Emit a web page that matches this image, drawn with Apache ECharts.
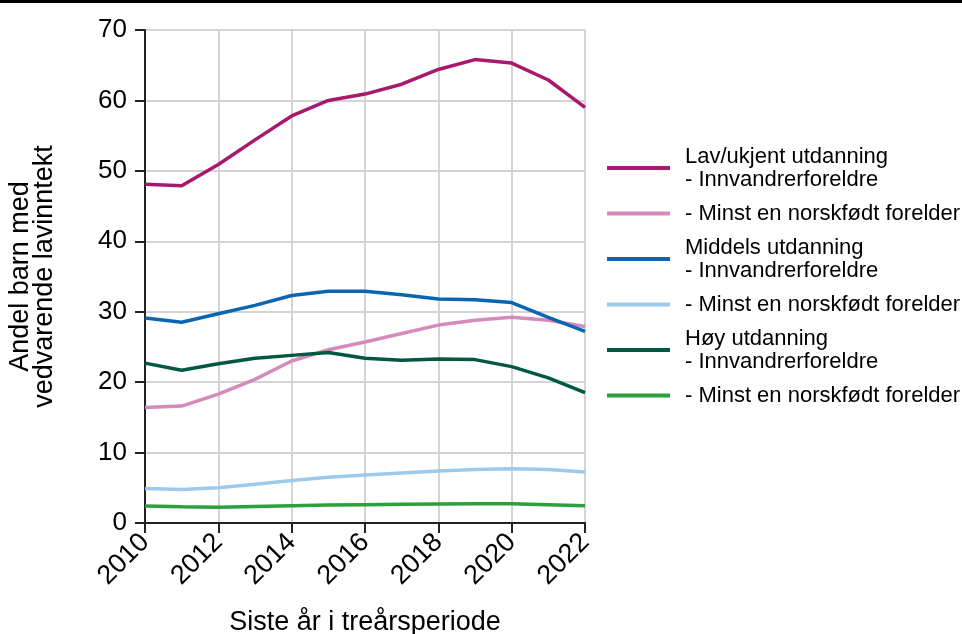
<!DOCTYPE html>
<html>
<head>
    <meta charset="utf-8">
    <title>Vedvarende lavinntekt</title>
    <script src="https://cdn.jsdelivr.net/npm/echarts@6/dist/echarts.min.js"></script>
    <style>
        html, body { margin: 0; padding: 0; background: #fff; }
        #charts { width: 962px; height: 634px; }
    </style>
</head>
<body>
<div id="charts"></div>
<script>
    // år (siste år i treårsperiode)
    var years = [2010, 2011, 2012, 2013, 2014, 2015, 2016, 2017, 2018, 2019, 2020, 2021, 2022];

    var seriesNames = [
        'Lav/ukjent utdanning\n- Innvandrerforeldre',
        '- Minst en norskfødt forelder',
        'Middels utdanning\n- Innvandrerforeldre',
        '- Minst en norskfødt forelder ',
        'Høy utdanning\n- Innvandrerforeldre',
        '- Minst en norskfødt forelder  '
    ];

    var lavInnv   = [48.1, 47.9, 50.9, 54.4, 57.8, 60.0, 60.9, 62.3, 64.4, 65.8, 65.3, 62.9, 59.0];
    var lavNorsk  = [16.4, 16.6, 18.3, 20.4, 23.0, 24.6, 25.7, 26.9, 28.1, 28.8, 29.2, 28.8, 27.9];
    var midInnv   = [29.1, 28.5, 29.7, 30.9, 32.3, 32.9, 32.9, 32.4, 31.8, 31.7, 31.3, 29.2, 27.2];
    var midNorsk  = [4.9, 4.75, 5.0, 5.5, 6.05, 6.5, 6.8, 7.1, 7.4, 7.6, 7.7, 7.6, 7.25];
    var hoyInnv   = [22.7, 21.7, 22.6, 23.4, 23.8, 24.2, 23.4, 23.1, 23.3, 23.2, 22.2, 20.6, 18.5];
    var hoyNorsk  = [2.4, 2.3, 2.25, 2.35, 2.45, 2.55, 2.6, 2.65, 2.7, 2.75, 2.75, 2.6, 2.45];

    var allValues = [lavInnv, lavNorsk, midInnv, midNorsk, hoyInnv, hoyNorsk];
    var colors = ['#a8186f', '#d58bba', '#0a66b2', '#9dcaeb', '#005843', '#2ca03c'];

    var myChart = echarts.init(document.getElementById('charts'));

    function pairs(vals) {
        var out = [];
        for (var i = 0; i < years.length; i++) {
            out.push([years[i], vals[i]]);
        }
        return out;
    }

    var series = [];
    for (var s = 0; s < seriesNames.length; s++) {
        series.push({
            name: seriesNames[s],
            type: 'line',
            symbol: 'none',
            lineStyle: {width: 3.5, color: colors[s]},
            itemStyle: {color: colors[s]},
            data: pairs(allValues[s])
        });
    }

    var font = 'Liberation Sans, Arial, sans-serif';

    var option = {
        animation: false,
        textStyle: {fontFamily: font},
        graphic: [{
            type: 'rect',
            left: 0, top: 0,
            shape: {width: 962, height: 3},
            style: {fill: '#000'}
        }],
        legend: {
            orient: 'vertical',
            left: 607,
            top: 145,
            padding: 0,
            icon: 'rect',
            itemWidth: 63,
            itemHeight: 4,
            itemGap: 11,
            data: seriesNames,
            textStyle: {
                fontFamily: font,
                fontSize: 22,
                lineHeight: 23,
                color: '#000',
                padding: [0, 0, 0, 10]
            }
        },
        grid: {left: 145, right: 377, top: 30, bottom: 111, outerBoundsMode: 'none', containLabel: false},
        xAxis: {
            type: 'value',
            min: 2010,
            max: 2022,
            interval: 2,
            name: 'Siste år i treårsperiode',
            nameLocation: 'middle',
            nameGap: 86,
            nameTextStyle: {fontSize: 27, color: '#000', fontFamily: font},
            axisLine: {lineStyle: {color: '#222', width: 2}},
            axisTick: {show: true, length: 10, lineStyle: {color: '#222', width: 2}},
            axisLabel: {
                rotate: 45,
                fontSize: 27,
                color: '#000',
                margin: 15,
                formatter: function (v) { return String(v); }
            },
            splitLine: {show: true, lineStyle: {color: '#d4d4d4', width: 2}}
        },
        yAxis: {
            type: 'value',
            min: 0,
            max: 70,
            interval: 10,
            name: 'Andel barn med\nvedvarende lavinntekt',
            nameLocation: 'middle',
            nameGap: 88,
            nameTextStyle: {fontSize: 27, lineHeight: 24, color: '#000', fontFamily: font},
            axisLine: {show: true, lineStyle: {color: '#222', width: 2}},
            axisTick: {show: true, length: 10, lineStyle: {color: '#222', width: 2}},
            axisLabel: {fontSize: 26, color: '#000', margin: 18},
            splitLine: {show: true, lineStyle: {color: '#d4d4d4', width: 2}}
        },
        series: series
    };

    myChart.setOption(option);
</script>
</body>
</html>
